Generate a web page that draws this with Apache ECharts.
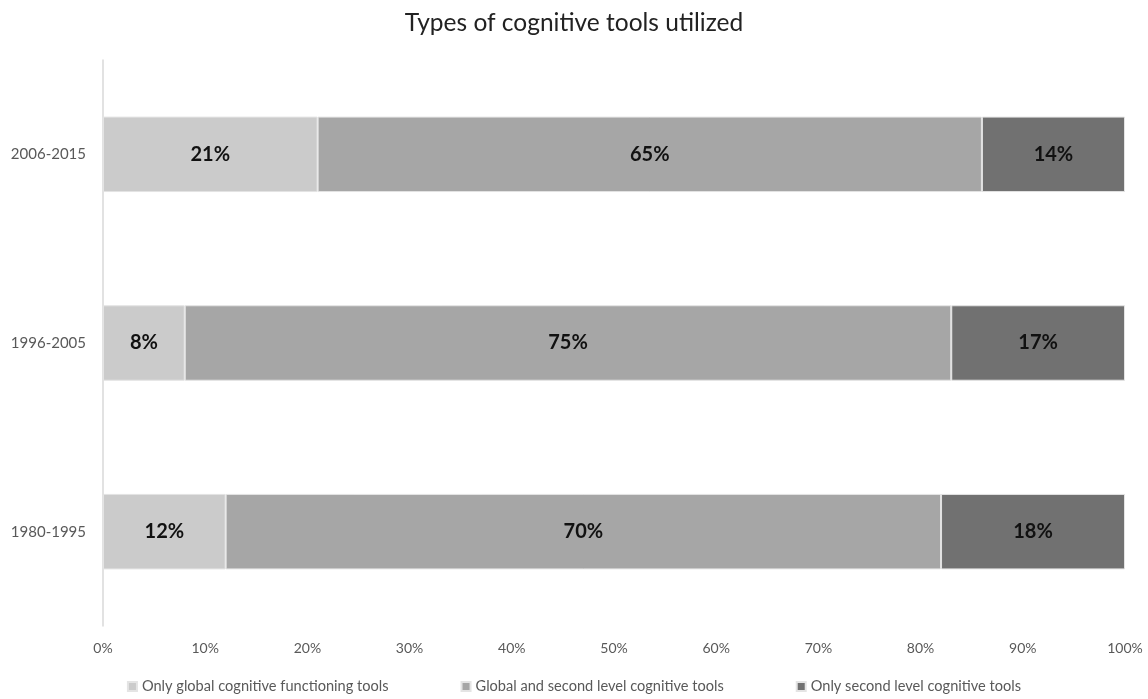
<!DOCTYPE html>
<html>
<head>
<meta charset="utf-8">
<script src="https://cdn.jsdelivr.net/npm/echarts@6/dist/echarts.min.js"></script>
<style>
  html, body { margin: 0; padding: 0; background: #fff; }
  #chart { width: 1148px; height: 699px; }
</style>
</head>
<body>
<div id="chart"></div>
<script>
// Periods, bottom to top on the category axis
const periods = ['1980-1995', '1996-2005', '2006-2015'];
// Share of studies (%) per period
const onlyGlobal = [12, 8, 21];
const globalAndSecond = [70, 75, 65];
const onlySecond = [18, 17, 14];
const seriesNames = [
  'Only global cognitive functioning tools',
  'Global and second level cognitive tools',
  'Only second level cognitive tools'
];
const tickValues = [0, 10, 20, 30, 40, 50, 60, 70, 80, 90, 100];

const font = 'Lato, "Open Sans", sans-serif';
const colors = ['#cbcbcb', '#a6a6a6', '#717171'];

function bar(name, data, color) {
  return {
    name: name,
    type: 'bar',
    stack: 'total',
    data: data,
    barWidth: '40%',
    itemStyle: { color: color, borderColor: '#e4e4e4', borderWidth: 1 },
    label: {
      show: true,
      position: 'inside',
      formatter: '{c}%',
      color: '#111',
      fontWeight: 'bold',
      fontSize: 20,
      fontFamily: font
    }
  };
}

const chart = echarts.init(document.getElementById('chart'));
chart.setOption({
  animation: false,
  title: {
    text: 'Types of cognitive tools utilized',
    left: 'center',
    top: 6,
    textStyle: { fontFamily: font, fontWeight: 'normal', fontSize: 24.5, color: '#222' }
  },
  legend: {
    bottom: 0,
    left: 'center',
    itemWidth: 9,
    itemHeight: 9,
    itemGap: 72,
    icon: 'rect',
    textStyle: { fontFamily: font, fontSize: 14.6, color: '#595959' },
    data: seriesNames
  },
  grid: { left: 103, right: 23, top: 60, bottom: 73, containLabel: false },
  xAxis: {
    type: 'value',
    min: 0,
    max: 100,
    interval: 10,
    axisLine: { show: false },
    axisTick: { show: false },
    splitLine: { show: false },
    axisLabel: {
      formatter: v => tickValues.includes(v) ? v + '%' : '',
      fontFamily: font,
      fontSize: 14,
      color: '#595959',
      margin: 15
    }
  },
  yAxis: {
    type: 'category',
    data: periods,
    axisLine: { show: true, lineStyle: { color: '#d9d9d9', width: 1.5 } },
    axisTick: { show: false },
    axisLabel: { fontFamily: font, fontSize: 15, color: '#595959', margin: 17 }
  },
  series: [
    bar(seriesNames[0], onlyGlobal, colors[0]),
    bar(seriesNames[1], globalAndSecond, colors[1]),
    bar(seriesNames[2], onlySecond, colors[2])
  ]
});
</script>
</body>
</html>
